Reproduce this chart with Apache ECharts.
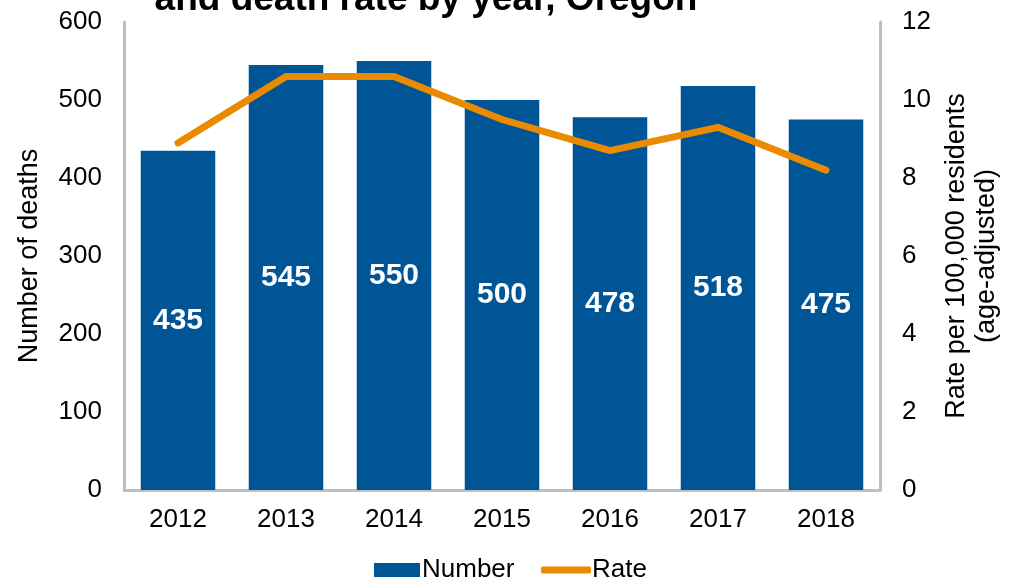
<!DOCTYPE html>
<html>
<head>
<meta charset="utf-8">
<script src="https://cdn.jsdelivr.net/npm/echarts@6/dist/echarts.min.js"></script>
<style>
  html, body { margin: 0; padding: 0; background: #fff; }
  #chart { width: 1010px; height: 582px; }
</style>
</head>
<body>
<div id="chart"></div>
<script>
const years = ['2012', '2013', '2014', '2015', '2016', '2017', '2018']
const deaths = [435, 545, 550, 500, 478, 518, 475]
const rates = [8.9, 10.6, 10.6, 9.5, 8.7, 9.3, 8.2]
const leftTicks = [0, 600, 100]
const rightTicks = [0, 12, 2]

const font = 'Liberation Sans, Arial, sans-serif'
const axisGray = '#BFBFBF'
const barBlue = '#005596'
const rateOrange = '#E98A00'

const chart = echarts.init(document.getElementById('chart'))

chart.setOption({
  animation: false,
  textStyle: { fontFamily: font },
  title: {
    text: 'and death rate by year, Oregon',
    left: 421,
    textAlign: 'center',
    top: -24,
    textStyle: { fontSize: 37, fontWeight: 'bold', color: '#000', fontFamily: font }
  },
  grid: { left: 124, right: 122, top: 22, bottom: 92 },
  // two legends so the line icon can be thinner than the bar icon
  legend: [
    {
      left: 369,
      top: 552,
      itemWidth: 46,
      itemHeight: 14,
      itemGap: 0,
      textStyle: { fontSize: 26, color: '#000', padding: [0, 0, 0, -3] },
      data: [{ name: 'Number', icon: 'rect' }]
    },
    {
      left: 536,
      top: 552,
      itemWidth: 50,
      itemHeight: 7,
      itemGap: 0,
      textStyle: { fontSize: 26, color: '#000', padding: [0, 0, 0, -4] },
      data: [{ name: 'Rate', icon: 'roundRect', itemStyle: { color: rateOrange } }]
    }
  ],
  xAxis: {
    type: 'category',
    data: years,
    axisLine: { lineStyle: { color: axisGray, width: 3 } },
    axisTick: { show: false },
    axisLabel: { fontSize: 26, color: '#000', margin: 17 }
  },
  yAxis: [
    {
      type: 'value',
      min: leftTicks[0],
      max: leftTicks[1],
      interval: leftTicks[2],
      name: 'Number of deaths',
      nameLocation: 'middle',
      nameRotate: 90,
      nameGap: 81,
      nameTextStyle: { fontSize: 27, color: '#000' },
      axisLine: { show: true, lineStyle: { color: axisGray, width: 3 } },
      axisTick: { show: false },
      splitLine: { show: false },
      axisLabel: { fontSize: 26, color: '#000', margin: 22 }
    },
    {
      type: 'value',
      min: rightTicks[0],
      max: rightTicks[1],
      interval: rightTicks[2],
      name: 'Rate per 100,000 residents\n(age-adjusted)',
      nameLocation: 'middle',
      nameRotate: 90,
      nameGap: 62,
      nameTextStyle: { fontSize: 27, color: '#000', lineHeight: 30, align: 'center' },
      axisLine: { show: true, lineStyle: { color: axisGray, width: 3 } },
      axisTick: { show: false },
      splitLine: { show: false },
      axisLabel: { fontSize: 26, color: '#000', margin: 22 }
    }
  ],
  series: [
    {
      name: 'Number',
      type: 'bar',
      data: deaths,
      barWidth: '69%',
      itemStyle: { color: barBlue },
      label: {
        show: true,
        position: 'inside',
        color: '#fff',
        fontSize: 30,
        fontWeight: 'bold'
      }
    },
    {
      name: 'Rate',
      type: 'line',
      yAxisIndex: 1,
      data: rates,
      symbol: 'none',
      lineStyle: { color: rateOrange, width: 7, cap: 'round', join: 'round' },
      itemStyle: { color: rateOrange }
    }
  ]
})
</script>
</body>
</html>
